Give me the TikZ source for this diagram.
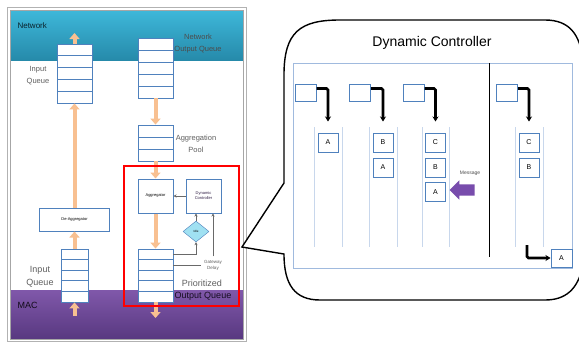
\documentclass[tikz,border=0pt]{standalone}
\usepackage{fontspec}
\setmainfont{Liberation Sans}
\usetikzlibrary{arrows.meta,shapes.geometric,shapes.arrows,positioning}

\definecolor{qblue}{RGB}{79,129,189}
\definecolor{lanecol}{RGB}{200,215,236}
\definecolor{panelcol}{RGB}{160,186,222}
\definecolor{peach}{RGB}{248,192,145}
\definecolor{netteal}{RGB}{62,184,218}
\definecolor{netdark}{RGB}{38,138,170}
\definecolor{macpurple}{RGB}{128,88,170}
\definecolor{macdark}{RGB}{88,56,128}
\definecolor{msgpurple}{RGB}{120,76,172}
\definecolor{ctrlgray}{RGB}{105,105,105}
\definecolor{diafill}{RGB}{160,225,242}
\definecolor{labgray}{RGB}{95,95,95}

\tikzset{
  cell/.style={draw=qblue, fill=white, line width=0.9pt, minimum width=35pt, inner sep=0pt},
  unit/.style={draw=qblue, fill=white, line width=1pt, inner sep=0pt, align=center, font=\fontsize{4}{5}\selectfont},
  flow/.style={draw=peach, line width=4pt, -{Triangle[width=10pt,length=6pt]}},
  ctrl/.style={draw=ctrlgray, line width=0.7pt, -{Stealth[length=3pt,width=3pt]}},
  lbl/.style={text=labgray, align=center, font=\fontsize{7.5}{12}\selectfont},
  slot/.style={draw=qblue, fill=white, line width=1pt, minimum width=20pt, minimum height=19pt, inner sep=0pt, font=\fontsize{7}{8}\selectfont},
  hook/.style={line width=2.6pt, rounded corners=1.5pt, -{Stealth[length=5pt,width=6pt]}},
}

\begin{document}
\begin{tikzpicture}[x=1pt,y=-1pt]
\useasboundingbox (0,0) rectangle (579,343);
\fill[white] (0,0) rectangle (579,343);

% left panel: network / mac bands
\draw[gray!60] (7,7) rectangle (246,341);
\shade[top color=netteal, bottom color=netdark] (10,10) rectangle (243,60);
\shade[top color=macpurple, bottom color=macdark] (10,290) rectangle (243,339);
\draw[gray!70, line width=0.6pt] (10,10) rectangle (243,339);
\node[anchor=west, text=black!75!netdark, font=\fontsize{8}{9}\selectfont] (net) at (14,26) {Network};
\node[anchor=west, text=black!80!macdark, font=\fontsize{9}{10}\selectfont] (mac) at (14,305) {MAC};

% queues
\foreach \i in {1,...,5}
  \node[cell, minimum height=11.8pt] (iq\i) at (74.5,{38.1+11.8*\i}) {};
\foreach \i in {1,...,5}
  \node[cell, minimum height=12pt] (noq\i) at (155.5,{32+12*\i}) {};
\foreach \i in {1,...,3}
  \node[cell, minimum height=12pt] (ap\i) at (155.5,{119+12*\i}) {};
\foreach \i in {1,...,5}
  \node[cell, minimum height=10.6pt] (pq\i) at (155.5,{243.7+10.6*\i}) {};
\foreach \i in {1,...,5}
  \node[cell, minimum width=27pt, minimum height=10.6pt] (bq\i) at (74.5,{243.7+10.6*\i}) {};

\node[lbl] (iqlbl) at (38,76) {Input\\Queue};
\node[lbl, text=black!70] (noqlbl) at (198,44) {Network\\Output Queue};
\node[lbl] (aplbl) at (196,144) {Aggregation\\Pool};
\node[lbl, font=\fontsize{9}{13}\selectfont] (bqlbl) at (40,276.5) {Input\\Queue};
\node[lbl, font=\fontsize{9}{10}\selectfont] (prlbl) at (202,283) {Prioritized};
\node[lbl, text=black!75!macdark, font=\fontsize{9}{10}\selectfont] (oqlbl) at (203,296) {Output Queue};

% units
\node[unit, minimum width=35pt, minimum height=34pt] (agg) at (155.5,196) {Aggregator};
\node[unit, minimum width=35pt, minimum height=34pt, text=black!60!msgpurple] (dc) at (203.5,196) {Dynamic\\Controller};
\node[unit, minimum width=70pt, minimum height=23pt] (deagg) at (74.5,219.5) {De-Aggregator};
\node[diamond, draw=qblue, fill=diafill, minimum width=26pt, minimum height=21pt, inner sep=0pt, font=\fontsize{3}{4}\selectfont] (dia) at (196,231.5) {Idle};
\node[text=labgray, align=center, font=\fontsize{4.5}{6}\selectfont] (gd) at (213,265) {Gateway\\Delay};

% data flow
\coordinate (netin) at (74.5,33);
\coordinate (macin) at (74.5,316);
\coordinate (macout) at (155.5,318);
\draw[flow] (iq1.north) -- (netin);
\draw[flow] (deagg.north) -- (iq5.south);
\draw[flow] (bq1.north) -- (deagg.south);
\draw[flow] (macin) -- (bq5.south);
\draw[flow] (noq5.south) -- (ap1.north);
\draw[flow] (ap3.south) -- (agg.north);
\draw[flow] (agg.south) -- (pq1.north);
\draw[flow] (pq5.south) -- (macout);

% control
\draw[ctrl] (dc) -- (agg);
\draw[ctrl] (pq1.east) -| (dia.south);
\draw[ctrl] (dia.north) -- (dia.north |- dc.south);
\draw[ctrl, -] (pq2.east) -- (gd.west |- pq2.east);
\draw[ctrl] (gd.north) -- (gd.north |- dc.south);

\node[draw=red, line width=2.5pt, minimum width=115pt, minimum height=140pt] (zoom) at (181.5,236) {};

% callout
\draw[line width=1.4pt, fill=white] (284,183) -- (284,75) .. controls (284,32) and (300,20) .. (340,20)
  -- (545,20) .. controls (570,20) and (580,35) .. (583,60) -- (583,265)
  .. controls (578,290) and (565,300) .. (545,300) -- (320,300)
  .. controls (295,300) and (284,285) .. (284,254) -- (242,247) -- cycle;
\node[font=\fontsize{14}{16}\selectfont] (title) at (432,43) {Dynamic Controller};
\draw[panelcol, line width=1pt] (293,63) rectangle (572,268);
\foreach \x in {314,342,369,397,422,449,515,543}
  \draw[lanecol, line width=0.6pt] (\x,127) -- (\x,247);
\draw[line width=0.9pt] (489,63) -- (489,257);

\node[slot, minimum width=21pt, minimum height=17pt] (s1) at (305.5,92.5) {};
\node[slot, minimum width=21pt, minimum height=17pt] (s2) at (360,92.5) {};
\node[slot, minimum width=21pt, minimum height=17pt] (s3) at (413.5,92.5) {};
\node[slot, minimum width=21pt, minimum height=17pt] (s4) at (507,92.5) {};

\node[slot] (a1) at (328,142.5) {A};
\node[slot] (b2) at (383,142.5) {B};
\node[slot] (a2) at (383,167.5) {A};
\node[slot] (c3) at (435.5,142.5) {C};
\node[slot] (b3) at (435.5,167.5) {B};
\node[slot] (a3) at (435.5,192) {A};
\node[slot] (c4) at (529,142.5) {C};
\node[slot] (b4) at (529,167.5) {B};
\node[slot, minimum width=21pt, minimum height=18pt] (aout) at (561.5,258) {A};

\draw[hook] ([yshift=4pt]s1.east) -| ([yshift=11pt]a1.north);
\draw[hook] ([yshift=4pt]s2.east) -| ([yshift=11pt]b2.north);
\draw[hook] ([yshift=4pt]s3.east) -| ([yshift=11pt]c3.north);
\draw[hook] ([yshift=4pt]s4.east) -| ([yshift=11pt]c4.north);
\coordinate (outsrc) at (527,245);
\draw[hook] (outsrc) |- (aout.west);

\node[text=black!70, font=\fontsize{5}{6}\selectfont] (msglbl) at (470,173) {Message};
\node[single arrow, shape border rotate=180, fill=msgpurple, inner sep=5.5pt, minimum height=25pt, single arrow head extend=4pt] (msg) at (465,190) {};
\end{tikzpicture}
\end{document}
